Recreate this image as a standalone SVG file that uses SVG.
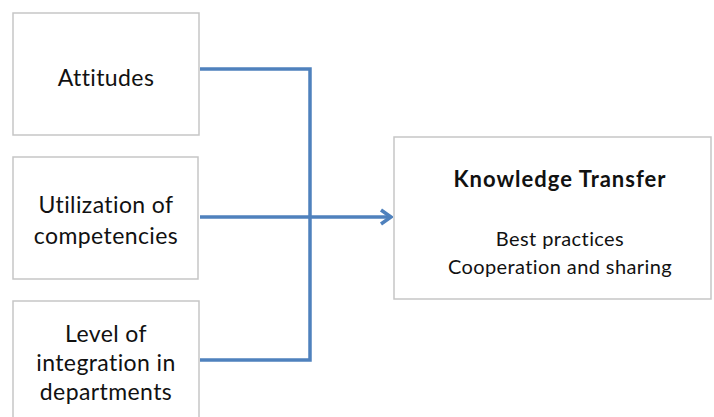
<svg xmlns="http://www.w3.org/2000/svg" width="714" height="417" viewBox="0 0 714 417">
  <defs>
    <style>
      .box { fill: #ffffff; stroke: #c6c6c6; stroke-width: 1.5; }
      .lbl { font-family: Lato, "Liberation Sans", sans-serif; font-size: 23px; letter-spacing: 0.4px; fill: #111111; text-anchor: middle; }
      .title { font-family: Lato, "Liberation Sans", sans-serif; font-size: 22px; letter-spacing: 1px; font-weight: bold; fill: #111111; text-anchor: middle; }
      .sub { font-family: Lato, "Liberation Sans", sans-serif; font-size: 20px; letter-spacing: 0.4px; fill: #111111; text-anchor: middle; }
      .wire { fill: none; stroke: #4f81bd; stroke-width: 3.5; }
    </style>
    <marker id="chevron" viewBox="0 0 14 18" refX="12" refY="9" markerWidth="14" markerHeight="18" markerUnits="userSpaceOnUse" orient="auto">
      <path d="M2,2 L12,9 L2,16" fill="none" stroke="#4f81bd" stroke-width="3.5"/>
    </marker>
  </defs>

  <rect width="714" height="417" fill="#ffffff"/>

  <g id="attitudes">
    <rect class="box" x="13" y="13" width="186" height="122"/>
    <text class="lbl" x="106" y="86">Attitudes</text>
  </g>

  <g id="utilization">
    <rect class="box" x="13" y="157" width="185" height="122"/>
    <text class="lbl" x="106" y="213">Utilization of</text>
    <text class="lbl" x="106" y="244">competencies</text>
  </g>

  <g id="integration">
    <rect class="box" x="13" y="301" width="186" height="130"/>
    <text class="lbl" x="106" y="342">Level of</text>
    <text class="lbl" x="106" y="371">integration in</text>
    <text class="lbl" x="106" y="400">departments</text>
  </g>

  <g id="knowledge-transfer">
    <rect class="box" x="394" y="137" width="317" height="162"/>
    <text class="title" x="560" y="187">Knowledge Transfer</text>
    <text class="sub" x="560" y="246">Best practices</text>
    <text class="sub" x="560" y="274">Cooperation and sharing</text>
  </g>

  <g id="connectors">
    <path class="wire" d="M200,69 H310 V360 H200"/>
    <path class="wire" d="M200,217 H391" marker-end="url(#chevron)"/>
  </g>
</svg>
